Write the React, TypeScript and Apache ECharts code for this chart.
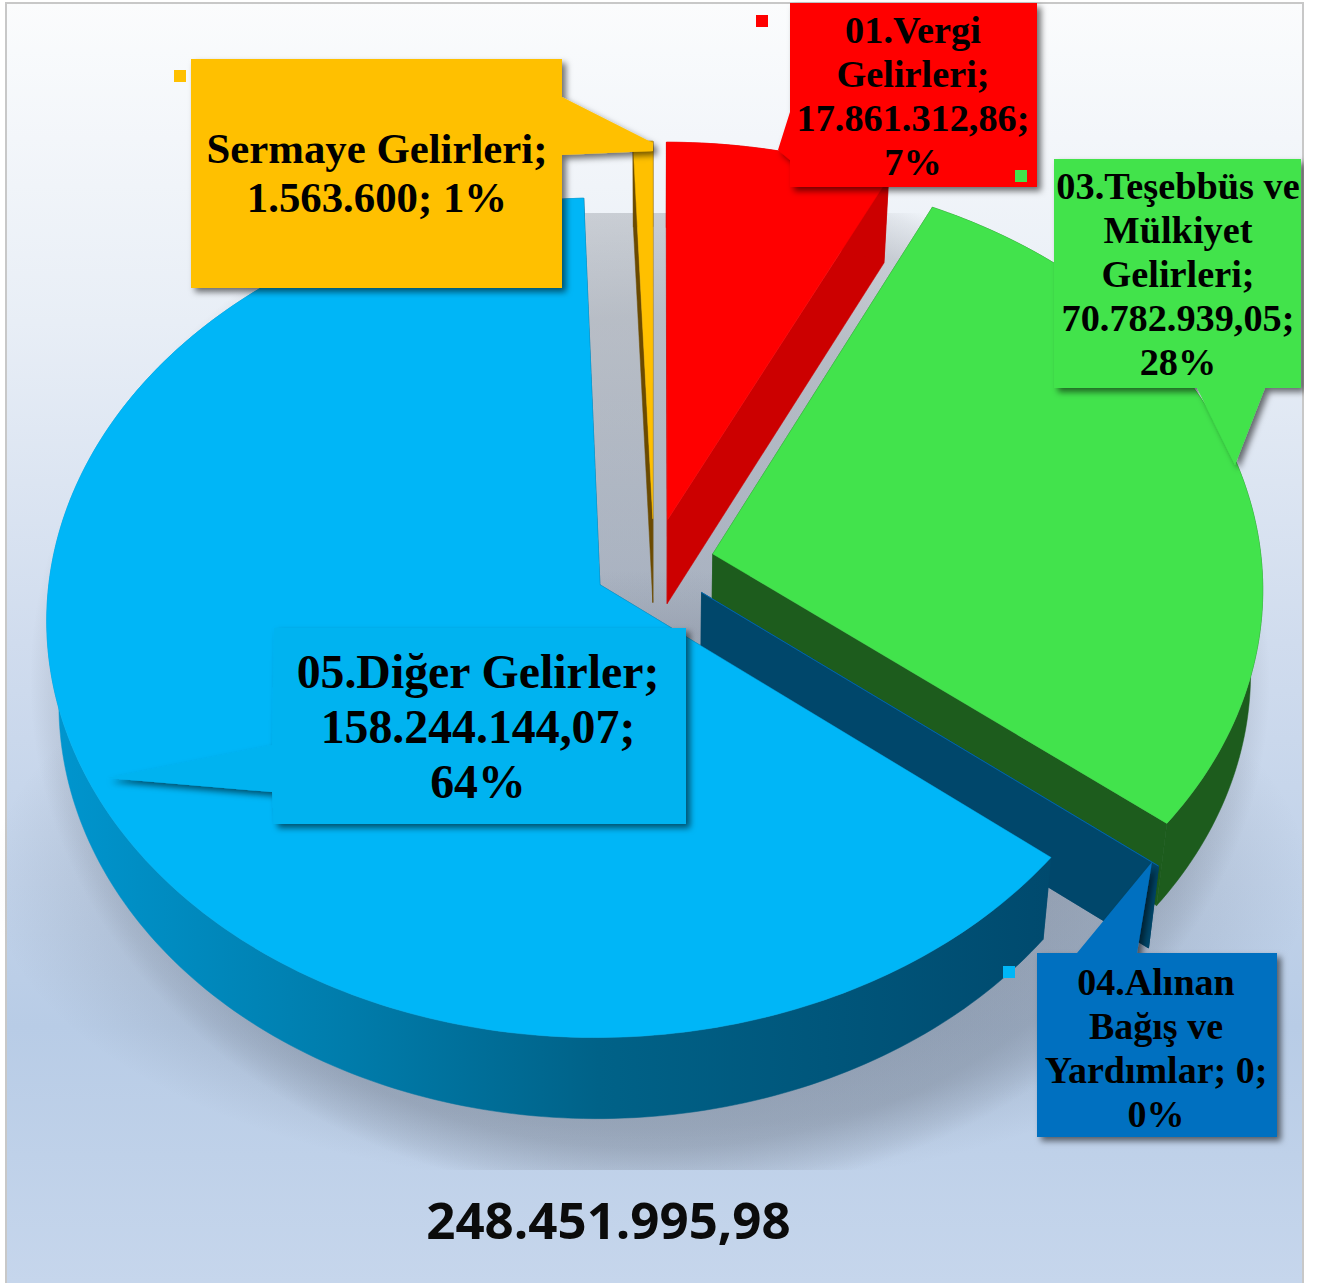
import React, { useEffect, useRef } from "react";
import * as echarts from "echarts";

// ---- data, in the drawing order of the pie (clockwise from 12 o'clock)
const categories = ["01.Vergi Gelirleri", "03.Teşebbüs ve Mülkiyet Gelirleri", "04.Alınan Bağış ve Yardımlar", "05.Diğer Gelirler", "Sermaye Gelirleri"];
const values = [17861312.86, 70782939.05, 0, 158244144.07, 1563600];
const labelTexts = [
  "01.Vergi\nGelirleri;\n17.861.312,86;\n7%",
  "03.Teşebbüs ve\nMülkiyet\nGelirleri;\n70.782.939,05;\n28%",
  "04.Alınan\nBağış ve\nYardımlar; 0;\n0%",
  "05.Diğer Gelirler;\n158.244.144,07;\n64%",
  "Sermaye Gelirleri;\n1.563.600; 1%",
];
const totalLabel = "248.451.995,98";

// ---- styles
const topColors = ["#ff0000", "#42e34c", "#0070c0", "#00b6f7", "#ffc000"];
const faceColors = ["#cc0000", "#1d5c1d", "#00476b", "#00476b", "#6b4a00"];
const boxColors = ["#ff0000", "#42e34c", "#0070c0", "#02b3f0", "#ffc000"];
const blueWall = {
  type: "linear", x: 47, y: 0, x2: 1050, y2: 0, global: true,
  colorStops: [
    { offset: 0, color: "#0096cf" },
    { offset: 0.3, color: "#007cab" },
    { offset: 0.55, color: "#006288" },
    { offset: 1, color: "#004a6e" },
  ],
};

// ---- projection of the exploded, tilted disc
const CX = 654, CY = 564, RX = 549, RY = 414, PERSP = 0.0783, EXPLODE = 0.11;
const WALL = 83.5, WALL_SLOPE = -0.005, WALL_SCALE = 0.98;
const DEG = Math.PI / 180;

function topPoint(U: number, V: number): number[] {
  const d = 1 - PERSP * V;
  return [CX + (RX * U) / d, CY + (RY * V) / d];
}
function bottomOf(p: number[]): number[] {
  return [CX + (p[0] - CX) * WALL_SCALE, p[1] + WALL + (p[1] - CY) * WALL_SLOPE];
}

const total = values.reduce((a, b) => a + b, 0);
let running = 0;
const sliceData = values.map((v, i) => {
  const start = (running / total) * 360;
  running += v;
  const end = (running / total) * 360;
  return { name: categories[i], value: [start, end, i] };
});

function renderSlice(_params: any, api: any) {
  const a0 = api.value(0) as number;
  const a1 = api.value(1) as number;
  const idx = api.value(2) as number;
  const mid = ((a0 + a1) / 2) * DEG;
  const ox = EXPLODE * Math.sin(mid);
  const oy = -EXPLODE * Math.cos(mid);
  const apex = topPoint(ox, oy);
  const arc: number[][] = [];
  const steps = Math.max(1, Math.ceil(a1 - a0));
  for (let s = 0; s <= steps; s++) {
    const t = (a0 + ((a1 - a0) * s) / steps) * DEG;
    arc.push(topPoint(Math.sin(t) + ox, -Math.cos(t) + oy));
  }
  const arcB = arc.map(bottomOf);
  const apexB = bottomOf(apex);
  const face = faceColors[idx];
  const wallFill: any = idx === 3 ? blueWall : face;
  const poly = (points: number[][], fill: any) => ({
    type: "polygon",
    silent: true,
    shape: { points },
    style: { fill, stroke: fill, lineWidth: 0.5 },
  });
  return {
    type: "group",
    children: [
      poly([apex, arc[0], arcB[0], apexB], face),
      poly([apex, arc[arc.length - 1], arcB[arcB.length - 1], apexB], face),
      poly([...arc, ...arcB.slice().reverse()], wallFill),
      poly([apex, ...arc], topColors[idx]),
    ],
  };
}

// ---- callouts (outline, text centre, font size, legend key)
const callouts = [
  { points: [[790, 3], [1037, 3], [1037, 187], [790, 187], [790, 160], [778, 150], [790, 112]], tx: 913, ty: 96, size: 38.3, lh: 44, key: [756, 15] },
  { points: [[1054, 159], [1301, 159], [1301, 388], [1265, 388], [1235, 465], [1197, 388], [1054, 388]], tx: 1178, ty: 274, size: 38.3, lh: 44, key: [1015, 170] },
  { points: [[1037, 953], [1077, 953], [1152, 862], [1137, 953], [1277, 953], [1277, 1137], [1037, 1137]], tx: 1156, ty: 1048, size: 38, lh: 44, key: null },
  { points: [[274, 628], [686, 628], [686, 824], [274, 824], [272, 792], [107, 778], [272, 745]], tx: 478, ty: 726, size: 47.8, lh: 55, key: [1003, 966] },
  { points: [[191, 59], [562, 59], [562, 97], [653, 143], [653, 151], [562, 155], [562, 288], [191, 288]], tx: 377, ty: 173, size: 42.8, lh: 49, key: [174, 70] },
];

const bgFill = (): any => ({
  type: "linear", x: 0, y: 2, x2: 0, y2: 1283, global: true,
  colorStops: [
    { offset: 0, color: "#fbfcfd" },
    { offset: 0.25, color: "#e8eef6" },
    { offset: 0.5, color: "#d0dcee" },
    { offset: 0.8, color: "#b8cce6" },
    { offset: 1, color: "#c6d6ec" },
  ],
});

function buildGraphics(): any[] {
  const els: any[] = [
    { type: "rect", z: -5, silent: true, shape: { x: 6, y: 3, width: 1297, height: 1280 }, style: { fill: bgFill(), stroke: "#c8c8c8", lineWidth: 2 } },
    {
      type: "ellipse", z: -4, silent: true,
      shape: { cx: 650, cy: 680, rx: 620, ry: 520 },
      style: {
        fill: {
          type: "radial", x: 0.5, y: 0.5, r: 0.5,
          colorStops: [
            { offset: 0, color: "rgba(70,75,85,0.3)" },
            { offset: 0.7, color: "rgba(70,75,85,0.3)" },
            { offset: 0.9, color: "rgba(70,75,85,0.22)" },
            { offset: 0.97, color: "rgba(70,75,85,0.08)" },
            { offset: 1, color: "rgba(70,75,85,0)" },
          ],
        },
      },
    },
    {
      type: "ellipse", z: -4, silent: true,
      shape: { cx: 650, cy: 880, rx: 660, ry: 310 },
      style: {
        fill: {
          type: "radial", x: 0.5, y: 0.5, r: 0.5,
          colorStops: [
            { offset: 0, color: "rgba(70,75,85,0.12)" },
            { offset: 0.8, color: "rgba(70,75,85,0.12)" },
            { offset: 1, color: "rgba(70,75,85,0)" },
          ],
        },
      },
    },
    { type: "rect", z: -3, silent: true, shape: { x: 7, y: 4, width: 1295, height: 209 }, style: { fill: bgFill() } },
    { type: "rect", z: -3, silent: true, shape: { x: 7, y: 1170, width: 1295, height: 113 }, style: { fill: bgFill() } },
    { type: "rect", z: 11, silent: true, shape: { x: 1304, y: 0, width: 21, height: 1283 }, style: { fill: "#ffffff" } },
  ];
  callouts.forEach((c, i) => {
    els.push({
      type: "polygon", z: 10, silent: true,
      shape: { points: c.points },
      style: { fill: boxColors[i], shadowBlur: 6, shadowOffsetX: 4, shadowOffsetY: 4, shadowColor: "rgba(0,0,0,0.55)" },
    });
    els.push({
      type: "text", z: 12, silent: true, x: c.tx, y: c.ty,
      style: {
        text: labelTexts[i], fill: "#000000", align: "center", verticalAlign: "middle",
        font: `bold ${c.size}px "Liberation Serif"`, lineHeight: c.lh,
      },
    });
    if (c.key) {
      els.push({
        type: "rect", z: 11, silent: true,
        shape: { x: c.key[0], y: c.key[1], width: 12, height: 12 },
        style: { fill: boxColors[i] === "#02b3f0" ? "#00b6f7" : boxColors[i] },
      });
    }
  });
  els.push({
    type: "text", z: 12, silent: true, x: 608.5, y: 1219,
    style: { text: totalLabel, fill: "#0b0b0b", align: "center", verticalAlign: "middle", font: 'bold 51px "Open Sans"' },
  });
  return els;
}

export default function App() {
  const ref = useRef<HTMLDivElement>(null);
  useEffect(() => {
    document.body.style.margin = "0";
    document.body.style.overflow = "hidden";
    document.body.style.background = "#ffffff";
    const chart = echarts.init(ref.current as HTMLDivElement, undefined, { renderer: "svg" });
    chart.setOption({
      animation: false,
      backgroundColor: "#ffffff",
      graphic: { elements: buildGraphics() },
      series: [
        {
          type: "custom",
          coordinateSystem: "none",
          silent: true,
          clip: false,
          z: 2,
          renderItem: renderSlice,
          data: sliceData,
        },
      ],
    });
    return () => chart.dispose();
  }, []);
  return <div ref={ref} style={{ width: 1325, height: 1283 }} />;
}
